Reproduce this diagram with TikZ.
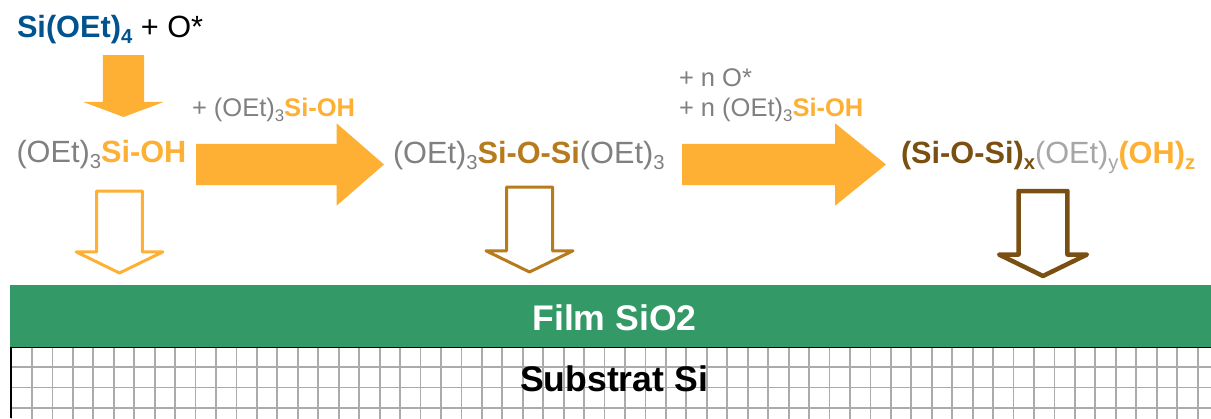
\documentclass[tikz,border=0pt]{standalone}
\usepackage{fontspec}
\setmainfont{Liberation Sans}
\usetikzlibrary{shapes.arrows}
\definecolor{sunorange}{HTML}{FDB034}
\definecolor{siblue}{HTML}{00538F}
\definecolor{ochre}{HTML}{B67B1C}
\definecolor{umber}{HTML}{7A5012}
\definecolor{filmgreen}{HTML}{339966}
\newcommand{\idx}[1]{\raisebox{-.2em}{\scalebox{.66}{#1}}}
\newcommand{\sizemain}{\fontsize{30.7}{36}\selectfont}
\newcommand{\sizeadd}{\fontsize{25.5}{30}\selectfont}
\newcommand{\sizelayer}{\fontsize{35.6}{42}\selectfont}
\begin{document}
\begin{tikzpicture}[x=1pt,y=-1pt,
    every node/.style={inner sep=0pt, outer sep=0pt},
    formula/.style={anchor=base west, text=gray},
    blockarrow/.style={single arrow, single arrow head indent=0pt,
      inner xsep=0pt, anchor=tip},
    solidarrow/.style={blockarrow, fill=sunorange},
    openarrow/.style={blockarrow, draw, line join=round, fill=white}]
      \useasboundingbox (0,0) rectangle (1211,418);
      % layers
      \draw[shift={(11.5,346.5)},xstep=20.45pt,ystep=20.45pt,color=black!33,line width=1.8pt] (0,0) grid (1200,72);
      \draw[black,line width=1.6pt] (11,418) -- (11,347.5) -- (1211,347.5);
      \node[fill=filmgreen,minimum width=1201pt,minimum height=62pt,anchor=north west] (film) at (10,285) {};
      \node[anchor=base,text=white] (filmlabel) at (614.5,330) {\sizelayer\bfseries Film SiO2};
      \node[anchor=base,text=black] (substrat) at (614,391) {\sizelayer\bfseries Substrat Si};
      % formulas
      \node[formula,text=black] (source) at (17,37) {\sizemain\textcolor{siblue}{\bfseries Si(OEt)\idx{4}} + O*};
      \node[formula] (silanol) at (16.5,162) {\sizemain(OEt)\idx{3}\textcolor{sunorange}{\bfseries Si-OH}};
      \node[formula] (dimer) at (393,163) {\sizemain(OEt)\idx{3}\textcolor{ochre}{\bfseries Si-O-Si}(OEt)\idx{3}};
      \node[formula,text=black!35] (polymer) at (901,163) {\sizemain\textcolor{umber}{\bfseries (Si-O-Si)\idx{x}}(OEt)\idx{y}\textcolor{sunorange}{\bfseries (OH)\idx{z}}};
      \node[formula] (addone) at (192,116) {\sizeadd + (OEt)\idx{3}\textcolor{sunorange}{\bfseries Si-OH}};
      \node[formula] (addtwo) at (679,86) {\sizeadd + n O*};
      \node[formula] (addthree) at (679,116) {\sizeadd + n (OEt)\idx{3}\textcolor{sunorange}{\bfseries Si-OH}};
      % arrows
      \node[solidarrow,rotate=-90,inner ysep=20.5pt,minimum height=62pt,single arrow head extend=19.5pt,single arrow tip angle=139] (react) at (123.5,117) {};
      \node[solidarrow,inner ysep=20.5pt,minimum height=188pt,single arrow head extend=20.5pt,single arrow tip angle=82] (stepone) at (384,164.5) {};
      \node[solidarrow,inner ysep=20.5pt,minimum height=204pt,single arrow head extend=20.5pt,single arrow tip angle=78] (steptwo) at (886,164.5) {};
      \node[openarrow,rotate=-90,draw=sunorange,line width=3pt,inner ysep=21.3pt,minimum height=82pt,single arrow head extend=20.5pt,single arrow tip angle=128] (dropone) at (119.5,273) {};
      \node[openarrow,rotate=-90,draw=ochre,line width=3pt,inner ysep=21.5pt,minimum height=85pt,single arrow head extend=20.5pt,single arrow tip angle=128] (droptwo) at (529.5,272) {};
      \node[openarrow,rotate=-90,draw=umber,line width=4.5pt,inner ysep=22.2pt,minimum height=85pt,single arrow head extend=19.5pt,single arrow tip angle=128] (dropthree) at (1043,276) {};
    \end{tikzpicture}
\end{document}
